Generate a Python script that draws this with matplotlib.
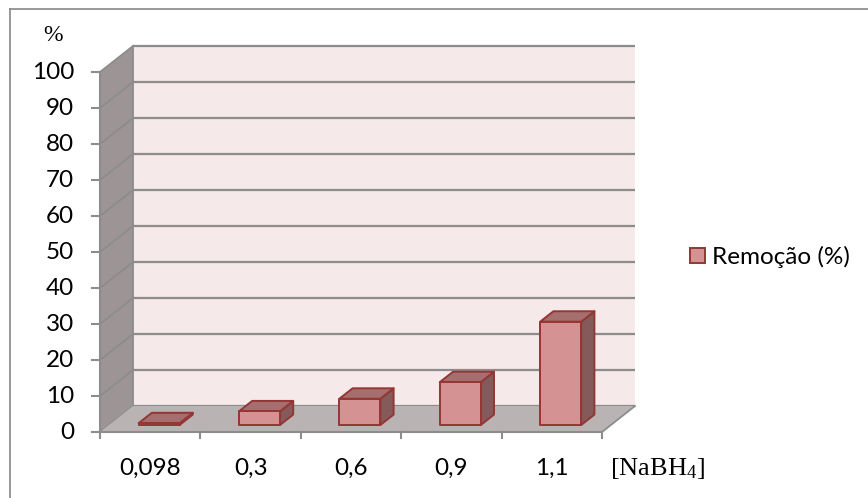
import matplotlib
matplotlib.use("Agg")
import matplotlib.pyplot as plt
from matplotlib.patches import Polygon
from matplotlib.lines import Line2D

# --- data -------------------------------------------------------------
categories = ["0,098", "0,3", "0,6", "0,9", "1,1"]
removal = [0.5, 3.8, 7.3, 11.9, 28.7]
y_ticks = [0, 10, 20, 30, 40, 50, 60, 70, 80, 90, 100]
series_name = "Remoção (%)"
y_unit = "%"
x_title = r"[NaBH$_4$]"

# --- styling ----------------------------------------------------------
plt.rcParams["font.family"] = ["Lato", "DejaVu Sans"]
plt.rcParams["mathtext.fontset"] = "custom"
plt.rcParams["mathtext.rm"] = "Liberation Serif"
plt.rcParams["mathtext.it"] = "Liberation Serif"

W, H = 868, 498
fig = plt.figure(figsize=(W / 100, H / 100), dpi=100)
ax = fig.add_axes([0, 0, 1, 1])
ax.set_axis_off()

# one category = 100.4 px, one percent = 3.6 px; front axis origin at px (100, 432)
PX_CAT, PX_PCT, X0, Y0 = 100.4, 3.6, 100.0, 432.0
ax.set_xlim(-X0 / PX_CAT, (W - X0) / PX_CAT)
ax.set_ylim((Y0 - H) / PX_PCT, Y0 / PX_PCT)

n = len(categories)
ymax = y_ticks[-1]
DX, DY = 33 / PX_CAT, 26 / PX_PCT          # depth of the 3-D box
FRONT, BACK = 0.27, 0.67                   # bar depth slot (fraction of box depth)
BAR_W = 41 / PX_CAT
FS = 17.5

grid_c = "#8c8c8c"
wall_c = "#f5e9e9"
side_c = "#9d9595"
floor_c = "#b9b3b3"

# back wall
ax.add_patch(Polygon([(DX, DY), (n + DX, DY), (n + DX, ymax + DY), (DX, ymax + DY)],
                     closed=True, fc=wall_c, ec="none", zorder=1))
# left wall
ax.add_patch(Polygon([(0, 0), (DX, DY), (DX, ymax + DY), (0, ymax)],
                     closed=True, fc=side_c, ec="none", zorder=1))
# floor
ax.add_patch(Polygon([(0, 0), (n, 0), (n + DX, DY), (DX, DY)],
                     closed=True, fc=floor_c, ec="none", zorder=2))

# gridlines on back wall and left wall
for v in y_ticks:
    ax.plot([DX, n + DX], [v + DY, v + DY], color=grid_c, lw=1.6, zorder=1.5,
            solid_capstyle="butt")
    ax.plot([0, DX], [v, v + DY], color=grid_c, lw=1.3, zorder=1.5)
ax.plot([DX, DX], [DY, ymax + DY], color=grid_c, lw=1.3, zorder=1.5)
ax.plot([n, n + DX], [0, DY], color=grid_c, lw=1.3, zorder=2.5)

# value axis with ticks
ax.plot([0, 0], [0, ymax], color=grid_c, lw=1.5, zorder=5)
tick_len = 8 / PX_CAT
for v in y_ticks:
    ax.plot([-tick_len, 0], [v, v], color=grid_c, lw=1.5, zorder=5)
    ax.text(-26 / PX_CAT, v, str(v), ha="right", va="center", fontsize=FS,
            color="black")

# category axis with ticks
ax.plot([0, n], [0, 0], color=grid_c, lw=1.5, zorder=5)
for i in range(n + 1):
    ax.plot([i, i], [0, -6 / PX_PCT], color=grid_c, lw=1.5, zorder=5)
for i, lab in enumerate(categories):
    ax.text(i + 0.5, -36 / PX_PCT, lab, ha="center", va="center", fontsize=FS,
            color="black")

# 3-D bars
edge_c = "#943634"
front_c = "#d49292"
top_c = "#a66f6f"
side_bar_c = "#855a5a"
fx, fy = FRONT * DX, FRONT * DY
bx, by = (BACK - FRONT) * DX, (BACK - FRONT) * DY
for i, v in enumerate(removal):
    x0 = i + 0.5 + fx - BAR_W / 2
    x1 = x0 + BAR_W
    y0 = fy
    y1 = fy + v
    z = 3 + i * 0.1
    ax.add_patch(Polygon([(x1, y0), (x1 + bx, y0 + by), (x1 + bx, y1 + by), (x1, y1)],
                         closed=True, fc=side_bar_c, ec=edge_c, lw=1.4, zorder=z,
                         joinstyle="round"))
    ax.add_patch(Polygon([(x0, y1), (x1, y1), (x1 + bx, y1 + by), (x0 + bx, y1 + by)],
                         closed=True, fc=top_c, ec=edge_c, lw=1.4, zorder=z,
                         joinstyle="round"))
    ax.add_patch(Polygon([(x0, y0), (x1, y0), (x1, y1), (x0, y1)],
                         closed=True, fc=front_c, ec=edge_c, lw=1.4, zorder=z + 0.01,
                         joinstyle="round"))

# legend
leg = ax.legend(handles=[Polygon([(0, 0)], fc=front_c, ec=edge_c, lw=1.4,
                                 label=series_name)],
                loc="center left", bbox_to_anchor=(690 / W, 1 - 257 / H),
                frameon=False, fontsize=FS, handlelength=0.62, handleheight=0.62,
                handletextpad=0.3, borderaxespad=0, borderpad=0)

# axis titles
ax.text(-47 / PX_CAT, (Y0 - 35) / PX_PCT, y_unit, ha="center", va="center",
        fontsize=17, family="Liberation Serif")
ax.text((610 - X0) / PX_CAT, (Y0 - 475) / PX_PCT, x_title, ha="left",
        va="baseline", fontsize=19, family="Liberation Serif")

# chart area border (top and left edges)
fig.add_artist(Line2D([9.5 / W, 9.5 / W], [0, 1 - 9.5 / H], transform=fig.transFigure,
                      color="#868686", lw=1.2))
fig.add_artist(Line2D([9.5 / W, 1], [1 - 9.5 / H, 1 - 9.5 / H], transform=fig.transFigure,
                      color="#868686", lw=1.2))

fig.savefig("out.png", dpi=100)
